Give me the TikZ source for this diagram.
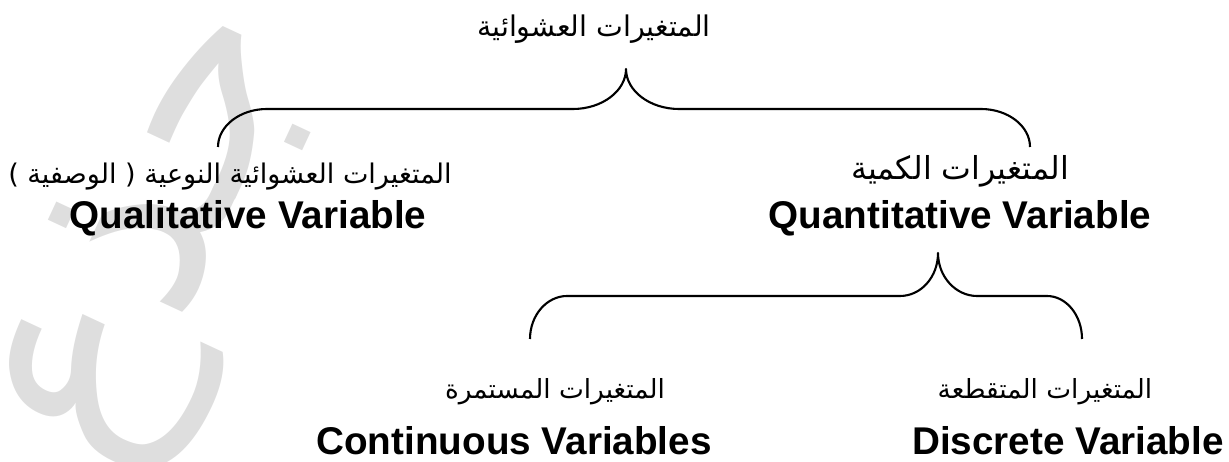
\documentclass[tikz,border=0pt]{standalone}
\usepackage{fontspec}
\usepackage{tikz}
\newfontfamily\arabicfont[Script=Arabic]{DejaVu Sans}
\newfontfamily\latinfont{Liberation Sans}
\TeXXeTstate=1

\begin{document}
\begin{tikzpicture}[x=0.1mm, y=-0.1mm,
    arlabel/.style={anchor=base, inner sep=0pt, font=\arabicfont\fontsize{#1}{10}\selectfont},
    arlabel/.default=7.5,
    enlabel/.style={anchor=base, inner sep=0pt, font=\latinfont\bfseries\fontsize{11}{13}\selectfont},
    watermark/.style={inner sep=0pt, rotate=65, text=black!13, font=\arabicfont\fontsize{78}{90}\selectfont},
    brace/.style={line width=0.6pt, line join=round}
]
    \useasboundingbox (0,0) rectangle (1229,462);
    % faint mark in the background
    \node[watermark] (wm) at (165,240) {\beginR جذع\endR};

    % labels
    \node[arlabel=8.1] (rv) at (594,37) {\beginR المتغيرات العشوائية\endR};
    \node[arlabel=7.7] (qualar) at (230,184) {\beginR المتغيرات العشوائية النوعية ( الوصفية )\endR};
    \node[enlabel] (qualen) at (248,229) {Qualitative Variable};
    \node[arlabel=9] (quantar) at (960,180) {\beginR المتغيرات الكمية\endR};
    \node[enlabel] (quanten) at (960,229) {Quantitative Variable};
    \node[arlabel] (contar) at (555,399) {\beginR المتغيرات المستمرة\endR};
    \node[enlabel] (conten) at (514,454) {Continuous Variables};
    \node[arlabel] (discar) at (1045,399) {\beginR المتغيرات المتقطعة\endR};
    \node[enlabel] (discen) at (1068,454) {Discrete Variable};

    % brace tips and ends
    \coordinate (toptip) at (626,69);
    \coordinate (qualend) at (218,147);
    \coordinate (quantend) at (1030,147);
    \coordinate (lowtip) at (938,253);
    \coordinate (contend) at (530,339);
    \coordinate (discend) at (1082,339);

    \draw[brace] (qualend) .. controls +(0,-21) and +(-27,0) .. (267,109)
        -- (573,109) .. controls +(29,0) and +(0,22) .. (toptip)
        .. controls +(0,22) and +(-29,0) .. (679,109)
        -- (981,109) .. controls +(27,0) and +(0,-21) .. (quantend);
    \draw[brace] (contend) .. controls +(0,-24) and +(-20,0) .. (567,296)
        -- (900,296) .. controls +(21,0) and +(0,24) .. (lowtip)
        .. controls +(0,24) and +(-21,0) .. (977,296)
        -- (1047,296) .. controls +(19,0) and +(0,-24) .. (discend);
\end{tikzpicture}
\end{document}
